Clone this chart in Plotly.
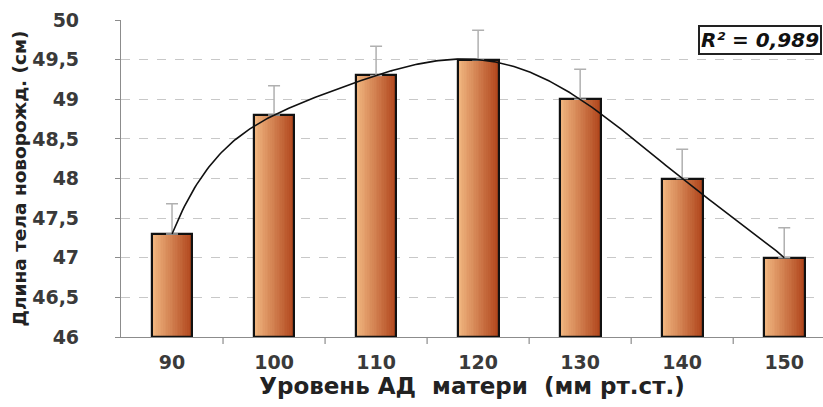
import numpy as np
import plotly.graph_objects as go

# Mother's blood pressure level (mm Hg) and newborn body length (cm)
categories = ["90", "100", "110", "120", "130", "140", "150"]
length_cm = [47.3, 48.8, 49.3, 49.5, 49.0, 48.0, 47.0]
error_up = [0.38, 0.37, 0.37, 0.37, 0.38, 0.37, 0.38]
r2_label = "R² = 0,989"

AXIS_BASE = 46
xpos = np.arange(len(categories))
bar_w = 0.4
heights = [v - AXIS_BASE for v in length_cm]

fig = go.Figure()

# horizontal colour gradient inside each bar, built from thin overlaid slices
n_slices = 24
c_left = np.array([242, 184, 130])
c_right = np.array([178, 72, 30])
for i in range(n_slices):
    t = i / (n_slices - 1)
    c = (c_left * (1 - t) + c_right * t).astype(int)
    fig.add_trace(go.Bar(
        x=xpos, y=heights, base=AXIS_BASE,
        width=bar_w / n_slices * 1.15,
        offset=-bar_w / 2 + i * bar_w / n_slices,
        marker=dict(color=f"rgb({c[0]},{c[1]},{c[2]})", line=dict(width=0)),
        showlegend=False, hoverinfo="skip",
    ))

# black outline of each bar plus one-sided error bars
fig.add_trace(go.Bar(
    x=xpos, y=heights, base=AXIS_BASE,
    width=bar_w, offset=-bar_w / 2,
    marker=dict(color="rgba(0,0,0,0)", line=dict(color="#111111", width=2.2)),
    error_y=dict(type="data", symmetric=False, array=error_up,
                 arrayminus=[0] * len(error_up),
                 color="#b0b0b0", thickness=1.5, width=6),
    showlegend=False,
))

# polynomial trend line (6th order) through the bar values
coef = np.polyfit(xpos, length_cm, 6)
xs = np.linspace(0, len(categories) - 1, 300)
fig.add_trace(go.Scatter(
    x=xs, y=np.polyval(coef, xs), mode="lines",
    line=dict(color="#111111", width=1.6), showlegend=False,
))

font_family = "DejaVu Sans, Open Sans, sans-serif"
tick_font = dict(size=19, family=font_family, weight="bold", color="#3a3a3a")
fig.update_layout(
    width=823, height=407,
    margin=dict(l=121, r=0, t=20, b=70),
    paper_bgcolor="white", plot_bgcolor="white",
    barmode="overlay", bargap=0,
    separators=", ",
    font=dict(family=font_family, color="#333333"),
    xaxis=dict(
        range=[-0.5, 6.38], tickvals=list(xpos), ticktext=categories,
        tickfont=tick_font,
        showgrid=False, zeroline=False,
        showline=True, linecolor="#8c8c8c", linewidth=1.2,
        ticks="", ticklabelstandoff=8,
        title=dict(text="Уровень АД\u00a0\u00a0матери\u00a0\u00a0(мм рт.ст.)", standoff=2,
                   font=dict(size=23, family=font_family, weight="bold", color="#222222")),
    ),
    yaxis=dict(
        range=[46, 50], dtick=0.5, tick0=46,
        tickfont=tick_font,
        showgrid=True, gridcolor="#c8c8c8", griddash="dash", gridwidth=1,
        zeroline=False, showline=True, linecolor="#8c8c8c", linewidth=1.2,
        ticks="outside", ticklen=5, tickcolor="#8c8c8c", ticklabelstandoff=32,
        title=dict(text="Длина тела новорожд. (см)", standoff=0,
                   font=dict(size=18.5, family=font_family, weight="bold", color="#222222")),
    ),
)

# category separator ticks under the x axis
for k in range(len(categories)):
    fig.add_shape(type="line", xref="x", yref="paper",
                  x0=k + 0.5, x1=k + 0.5, y0=0, y1=-0.022,
                  line=dict(color="#8c8c8c", width=1.2))

fig.add_annotation(
    xref="paper", yref="paper", x=0.822, y=0.985, xanchor="left", yanchor="top",
    text=f"<i><b>{r2_label}</b></i>", showarrow=False,
    font=dict(size=20, family=font_family, color="#111111"),
    bgcolor="white", bordercolor="#222222", borderwidth=2, borderpad=1,
)

fig.write_html("out.html")
